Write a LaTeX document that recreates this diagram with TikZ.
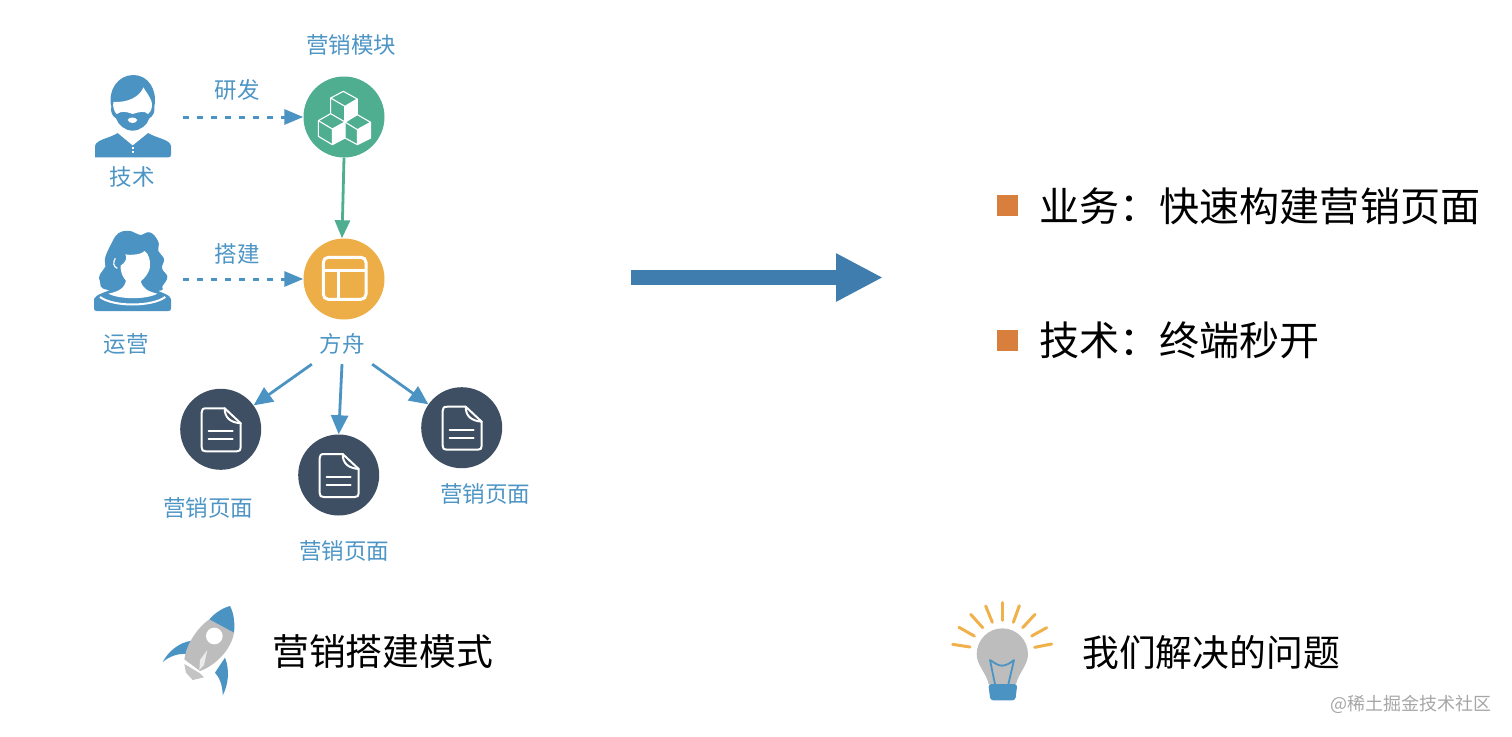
\documentclass[tikz,border=0pt]{standalone}
\usepackage{fontspec}
\setmainfont{Noto Sans CJK SC}
\usetikzlibrary{arrows.meta}
\definecolor{blueT}{HTML}{4D95C5}
\definecolor{iconB}{HTML}{4B93C3}
\definecolor{greenC}{HTML}{4FAE90}
\definecolor{orangeC}{HTML}{EEAE47}
\definecolor{navyC}{HTML}{3E4E63}
\definecolor{bigA}{HTML}{3F7DAE}
\definecolor{squareC}{HTML}{D97F3E}
\definecolor{grayB}{HTML}{BDBDBD}
\definecolor{rayC}{HTML}{F0B04A}
\tikzset{
  lab/.style={text=blueT,font=\fontsize{22.5}{26}\selectfont,inner sep=0pt},
  bigtxt/.style={text=black,font=\fontsize{40.1}{46}\selectfont,inner sep=0pt,anchor=west},
  captxt/.style={text=black,font=\fontsize{36.8}{42}\selectfont,inner sep=0pt,anchor=west},
  disc/.style={circle,minimum size=81pt,inner sep=0pt},
  holder/.style={inner sep=0pt},
  dasharrow/.style={iconB,line width=3pt,dash pattern=on 6pt off 8pt,-{Triangle[length=19pt,width=15pt]}},
  solidarrow/.style={iconB,line width=2.8pt,-{Triangle[length=19pt,width=17pt]}},
  greenarrow/.style={greenC,line width=2.8pt,-{Triangle[length=18pt,width=15pt]}},
  bullet/.style={fill=squareC,minimum size=21pt,inner sep=0pt},
  iconline/.style={white,line width=2pt,line join=round,line cap=round},
  ray/.style={rayC,line width=3pt,line cap=round},
  zoomed/.style={x=0.33333pt,y=-0.33333pt},
}
\newcommand{\docicon}[1]{%
  \begin{scope}[shift={(#1)}]
    \draw[iconline] (-14,-21) -- (4,-21) -- (20,-6) -- (20,18) .. controls (20,21) and (19,22) .. (16,22) -- (-15,22) .. controls (-18,22) and (-19,21) .. (-19,18) -- (-19,-17) .. controls (-19,-20) and (-18,-21) .. (-14,-21);
    \draw[iconline] (4,-21) .. controls (4,-12) and (9,-7) .. (20,-6);
    \draw[iconline] (-12,2) -- (12,2);
    \draw[iconline] (-12,10) -- (12,10);
  \end{scope}}
\begin{document}
\begin{tikzpicture}[x=1pt,y=-1pt]
\useasboundingbox (0,0) rectangle (1512,736);
% people
\begin{scope}[shift={(90,70)},zoomed]
  \fill[iconB] (15,262) -- (15,228) .. controls (18,208) and (60,205) .. (85,188) -- (128,225) -- (172,188) .. controls (200,205) and (240,208) .. (243,228) -- (243,254) .. controls (243,260) and (240,262) .. (235,262) -- cycle;
  \fill[white] (90,150) -- (82,188) -- (128,226) -- (175,188) -- (166,150) -- cycle;
  \fill[iconB] (64,110) .. controls (52,60) and (85,15) .. (130,15) .. controls (175,15) and (203,60) .. (193,110) .. controls (196,125) and (188,140) .. (178,145) .. controls (172,165) and (150,182) .. (128,182) .. controls (105,182) and (85,165) .. (78,145) .. controls (68,140) and (60,125) .. (64,110) -- cycle;
  \fill[white] (70,96) .. controls (115,98) and (150,80) .. (160,52) .. controls (168,65) and (180,80) .. (185,96) .. controls (188,110) and (184,125) .. (174,132) .. controls (165,122) and (150,125) .. (128,132) .. controls (110,125) and (95,122) .. (80,132) .. controls (72,125) and (68,110) .. (70,96) -- cycle;
  \fill[white] (113,150) .. controls (118,140) and (136,140) .. (142,150) .. controls (138,162) and (118,162) .. (113,150) -- cycle;
  \fill[white] (126,231) rectangle (131,236);
  \fill[white] (126,243) rectangle (131,248);
\end{scope}
\begin{scope}[shift={(90,225)},zoomed]
  \fill[iconB] (12,222) .. controls (18,208) and (40,205) .. (70,190) -- (190,190) .. controls (215,205) and (240,208) .. (243,222) -- (243,250) .. controls (243,256) and (240,258) .. (235,258) -- (20,258) .. controls (15,258) and (12,256) .. (12,250) -- cycle;
  \fill[iconB] plot[smooth cycle,tension=0.7] coordinates {(55,195) (30,170) (30,148) (46,125) (45,100) (62,60) (85,25) (120,18) (150,30) (180,22) (205,50) (205,78) (222,102) (216,130) (232,155) (218,182) (200,198)};
  \fill[white] (55,206) .. controls (85,200) and (105,190) .. (108,165) -- (152,165) .. controls (155,190) and (175,200) .. (202,206) .. controls (170,224) and (90,224) .. (55,206) -- cycle;
  \fill[white] (92,122) .. controls (108,112) and (112,98) .. (106,88) .. controls (125,92) and (155,88) .. (164,78) .. controls (175,85) and (182,105) .. (180,125) .. controls (178,148) and (150,178) .. (130,178) .. controls (110,178) and (90,150) .. (92,122) -- cycle;
  \draw[white,line width=2pt] (30,216) .. controls (70,246) and (185,246) .. (226,216);
  \draw[white,line width=1.2pt] (76,100) .. controls (68,112) and (70,125) .. (82,130);
\end{scope}
\node[holder,minimum width=76pt,minimum height=81pt] (tech) at (133,117) {};
\node[holder,minimum width=76pt,minimum height=81pt] (ops) at (133,271) {};
% discs
\node[disc,fill=greenC] (green) at (344,117) {};
\node[disc,fill=orangeC] (ark) at (344,279) {};
\node[disc,fill=navyC] (doca) at (220.7,429.3) {};
\node[disc,fill=navyC] (docb) at (338.7,475) {};
\node[disc,fill=navyC] (docc) at (461.7,427.7) {};
% cubes
\begin{scope}[shift={(300,73)},zoomed]
  \fill[white] (135,100) -- (172,78) -- (172,125) -- (135,150) -- cycle;
  \fill[white] (97,168) -- (135,147) -- (135,195) -- (97,215) -- cycle;
  \fill[white] (172,170) -- (212,148) -- (212,195) -- (172,215) -- cycle;
  \draw[white,line width=1.1pt,line join=round] (92,122) -- (92,75) -- (130,55) -- (172,78) -- (135,100) -- (92,75);
  \draw[white,line width=1.1pt] (135,100) -- (135,147);
  \draw[white,line width=1.1pt,line join=round] (55,143) -- (92,122) -- (135,147) -- (97,168) -- cycle (55,143) -- (55,190) -- (97,215) -- (135,195) -- (135,147) (97,168) -- (97,215);
  \draw[white,line width=1.1pt,line join=round] (135,147) -- (172,125) -- (212,148) -- (172,170) -- cycle (135,195) -- (172,215) -- (212,195) -- (212,148) (172,170) -- (172,215) (172,78) -- (172,125);
\end{scope}
% panel
\begin{scope}[shift={(80,20)},zoomed]
  \draw[white,line width=3pt,rounded corners=5pt] (730,712) rectangle (858,838);
  \draw[white,line width=3pt] (730,752) -- (858,752) (775,752) -- (775,838);
\end{scope}
\docicon{doca}
\docicon{docb}
\docicon{docc}
% labels
\node[lab] (lmod) at (351,45) {营销模块};
\node[lab] (lrd) at (237,90) {研发};
\node[lab] (ltech) at (132,177) {技术};
\node[lab] (lbuild) at (237,254) {搭建};
\node[lab] (lops) at (126,344) {运营};
\node[lab,minimum width=60pt,minimum height=40pt] (lark) at (342,344) {方舟};
\node[lab] (lpa) at (208,508) {营销页面};
\node[lab] (lpb) at (344,551) {营销页面};
\node[lab] (lpc) at (485,494) {营销页面};
% connectors
\draw[dasharrow,shorten <=12pt] (tech.east |- green) -- (green);
\draw[dasharrow,shorten <=12pt] (ops.east |- ark) -- (ark);
\draw[greenarrow] (green.south) -- ([xshift=-2pt]ark.north);
\draw[solidarrow] (lark.south west) -- (doca.36);
\draw[solidarrow] (lark.south) -- (docb.north);
\draw[solidarrow] (lark.south east) -- (docc.145);
% big arrow
\coordinate (bigs) at (631,277.5);
\coordinate (bige) at (883,277.5);
\draw[bigA,line width=15pt,-{Triangle[length=47pt,width=45pt]}] (bigs) -- (bige);
% right list
\node[bullet] (sqa) at (1007,205) {};
\node[bullet] (sqb) at (1007,340) {};
\node[bigtxt] (ta) at (1039,206) {业务：快速构建营销页面};
\node[bigtxt] (tb) at (1039,340) {技术：终端秒开};
% rocket
\begin{scope}[shift={(150,590)},zoomed]
  \fill[iconB] (125,152) .. controls (85,158) and (55,185) .. (38,216) .. controls (60,198) and (85,190) .. (108,192) -- cycle;
  \fill[iconB] (225,203) .. controls (240,240) and (235,285) .. (218,316) .. controls (218,285) and (208,262) .. (195,248) -- cycle;
  \fill[grayB!90!white] (103,222) -- (150,250) -- (162,262) -- (128,270) -- (108,248) -- cycle;
  \fill[grayB] (178,88) -- (252,128) .. controls (245,175) and (200,225) .. (150,243) -- (103,208) .. controls (108,165) and (140,115) .. (178,88) -- cycle;
  \fill[white!70!grayB] (172,180) -- (162,225) -- (148,240) -- (150,210) -- cycle;
  \fill[iconB] (178,88) .. controls (195,68) and (220,53) .. (240,48) .. controls (252,70) and (255,100) .. (252,128) -- cycle;
  \fill[white] (193,138) circle[radius=25];
\end{scope}
\node[captxt] (capa) at (272,652) {营销搭建模式};
% bulb
\begin{scope}[shift={(940,595)},zoomed]
  \fill[grayB] (187,100) .. controls (230,100) and (264,135) .. (264,178) .. controls (264,210) and (235,235) .. (228,268) -- (146,268) .. controls (140,235) and (110,210) .. (110,178) .. controls (110,135) and (144,100) .. (187,100) -- cycle;
  \draw[iconB,line width=1.8pt,line join=round] (165,268) -- (150,195) .. controls (165,205) and (175,212) .. (186,212) .. controls (197,212) and (210,205) .. (222,195) -- (205,268);
  \fill[iconB,rounded corners=3pt] (145,267) -- (232,267) -- (226,316) -- (151,316) -- cycle;
  \draw[ray] (38,148) -- (90,156);
  \draw[ray] (57,97) -- (103,123);
  \draw[ray] (92,58) -- (128,98);
  \draw[ray] (137,33) -- (157,82);
  \draw[ray] (186,23) -- (186,76);
  \draw[ray] (238,32) -- (220,82);
  \draw[ray] (285,58) -- (248,98);
  \draw[ray] (320,98) -- (275,123);
  \draw[ray] (335,147) -- (284,157);
\end{scope}
\node[captxt] (capb) at (1082,652) {我们解决的问题};
\node[text=black!35,font=\fontsize{18}{22}\selectfont,inner sep=0pt] (wm) at (1411,704) {@稀土掘金技术社区};
\end{tikzpicture}
\end{document}
